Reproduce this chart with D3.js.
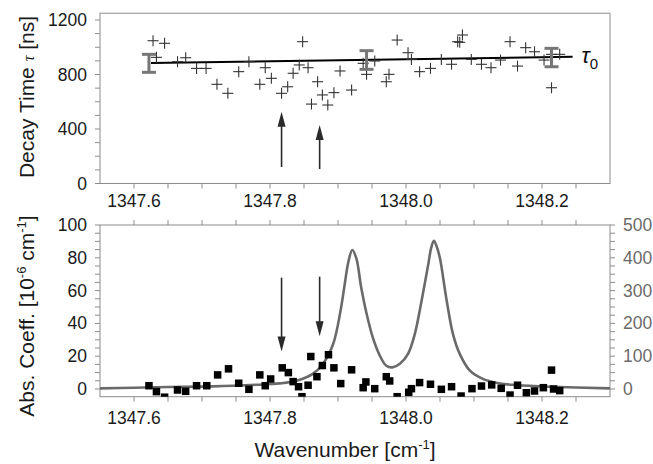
<!DOCTYPE html>
<html>
<head>
<meta charset="utf-8">
<script src="https://cdn.jsdelivr.net/npm/d3@7"></script>
<style>
  html, body { margin: 0; padding: 0; background: #fff; }
  svg text { font-family: "Liberation Sans", Arial, sans-serif; }
</style>
</head>
<body>
<svg id="chart" width="653" height="464"></svg>
<script>
// Ring-down decay times (upper panel)
const tauWn = [1347.628, 1347.645, 1347.633, 1347.664, 1347.676, 1347.692, 1347.706, 1347.722, 1347.738, 1347.754,
  1347.769, 1347.785, 1347.793, 1347.802, 1347.817, 1347.826, 1347.834, 1347.843, 1347.856, 1347.848,
  1347.870, 1347.861, 1347.877, 1347.885, 1347.894, 1347.903, 1347.920, 1347.937, 1347.942, 1347.954,
  1347.971, 1347.975, 1347.987, 1348.003, 1348.008, 1348.020, 1348.036, 1348.052, 1348.067, 1348.076,
  1348.083, 1348.079, 1348.096, 1348.111, 1348.125, 1348.139, 1348.153, 1348.164, 1348.176, 1348.189,
  1348.203, 1348.214, 1348.226, 1348.214];
const tauNs = [1048, 1029, 926, 894, 923, 845, 845, 728, 662, 821,
  894, 728, 850, 772, 662, 710, 809, 870, 850, 1041,
  747, 583, 650, 576, 667, 826, 686, 882, 801, 899,
  747, 801, 1053, 960, 911, 821, 845, 911, 875, 1041,
  1090, 1036, 911, 875, 850, 906, 1041, 862, 997, 967,
  906, 948, 948, 703];

// Empty-cavity decay time tau_0 and its error bars
const tau0Wn = [1347.625, 1348.245];
const tau0Ns = [885, 930];
const errWn = [1347.622, 1347.942, 1348.214];
const errLo = [816, 838, 857];
const errHi = [948, 975, 992];

// Absorption coefficient (lower panel, left axis)
const absWn = [1347.622, 1347.633, 1347.645, 1347.664, 1347.676, 1347.692, 1347.707, 1347.723, 1347.739, 1347.754,
  1347.769, 1347.785, 1347.793, 1347.801, 1347.818, 1347.827, 1347.834, 1347.842, 1347.847, 1347.856,
  1347.860, 1347.869, 1347.877, 1347.886, 1347.894, 1347.904, 1347.920, 1347.937, 1347.941, 1347.954,
  1347.971, 1347.976, 1347.987, 1348.004, 1348.008, 1348.020, 1348.036, 1348.052, 1348.067, 1348.081,
  1348.097, 1348.111, 1348.126, 1348.140, 1348.153, 1348.164, 1348.177, 1348.189, 1348.202, 1348.214,
  1348.217, 1348.226];
const absVal = [2.0, -1.6, -5.0, -0.6, -1.4, 2.0, 2.0, 8.6, 12.3, 3.5,
  -0.2, 8.6, 2.0, 6.1, 12.9, 10.0, 4.5, 1.4, -4.7, 2.3,
  19.8, 7.5, 14.3, 20.9, 12.9, 3.3, 11.7, 0.8, 4.3, 0.2,
  7.5, 4.9, -4.7, -2.0, 0.2, 3.9, 2.9, -0.2, 1.4, -4.3,
  0.2, 1.8, 2.5, 0.4, -3.7, 2.3, -2.3, -1.2, 0.8, 11.5,
  0.0, -1.0];

// Reference spectrum (lower panel, right axis)
const specWn = [1347.550, 1347.600, 1347.650, 1347.716, 1347.780, 1347.814, 1347.839, 1347.863, 1347.878, 1347.893,
  1347.903, 1347.910, 1347.915, 1347.921, 1347.927, 1347.934, 1347.942, 1347.951, 1347.961, 1347.971,
  1347.980, 1347.991, 1348.003, 1348.013, 1348.023, 1348.033, 1348.037, 1348.041, 1348.045, 1348.050,
  1348.059, 1348.069, 1348.079, 1348.094, 1348.113, 1348.138, 1348.162, 1348.211, 1348.300];
const specVal = [2, 4, 6, 8, 13, 17, 25, 46, 77, 138,
  230, 321, 385, 424, 398, 311, 230, 158, 104, 71,
  66, 77, 107, 168, 270, 383, 430, 452, 435, 398,
  280, 168, 107, 56, 31, 17, 12, 7, 2];

// Marked transitions
const markWn = [1347.817, 1347.873];
const markTopTip = [527, 429], markTopBase = [121, 106];
const markBotTip = [22.9, 32.1], markBotBase = [67.9, 68.5];

// Axis ticks
const xMajor = [1347.6, 1347.8, 1348.0, 1348.2];
const xMajorLabels = ["1347.6", "1347.8", "1348.0", "1348.2"];
const tauTicks = [0, 400, 800, 1200];
const absTicks = [0, 20, 40, 60, 80, 100];
const specTicks = [0, 100, 200, 300, 400, 500];

const svg = d3.select("#chart");
const frameColor = "#8c8c8c";
const tickLen = 5;
const tickFont = 17.5;
const titleFont = 21;
const serif = "'Liberation Serif', 'DejaVu Serif', serif";

const x = d3.scaleLinear().domain([1347.55, 1348.30]).range([100, 610]);
const yTau = d3.scaleLinear().domain([0, 1250]).range([183.5, 13.2]);
const yAbs = d3.scaleLinear().domain([-4.7, 100]).range([396.7, 225]);
const ySpec = d3.scaleLinear().domain([-23.5, 500]).range([396.7, 225]);

const xMinor = d3.range(0, 16).map(i => +(1347.55 + i * 0.05).toFixed(2)).filter(v => v > 1347.55 && v < 1348.30);

function frame(yScale) {
  const [y0, y1] = yScale.range();
  svg.append("rect")
    .attr("x", x.range()[0]).attr("y", y1)
    .attr("width", x.range()[1] - x.range()[0]).attr("height", y0 - y1)
    .attr("fill", "none").attr("stroke", frameColor).attr("stroke-width", 1);
}

function xTicks(yPos, dir) {
  svg.append("g").selectAll("line").data(xMinor).join("line")
    .attr("x1", d => x(d)).attr("x2", d => x(d))
    .attr("y1", yPos).attr("y2", yPos + dir * tickLen)
    .attr("stroke", frameColor).attr("stroke-width", 1);
}

function yTicks(scale, major, minorStep, xPos, dir, labelColor, anchor) {
  const [lo, hi] = scale.domain();
  const minor = d3.range(Math.ceil(lo / minorStep) * minorStep, hi + 1e-9, minorStep);
  svg.append("g").selectAll("line").data(minor).join("line")
    .attr("x1", xPos).attr("x2", xPos + dir * tickLen)
    .attr("y1", d => scale(d)).attr("y2", d => scale(d))
    .attr("stroke", frameColor).attr("stroke-width", 1);
  svg.append("g").selectAll("text").data(major).join("text")
    .attr("x", xPos + dir * 13).attr("y", d => scale(d) + 6)
    .attr("text-anchor", anchor)
    .attr("font-size", tickFont).attr("fill", labelColor)
    .text(d => d);
}

// ---------- Upper panel ----------
frame(yTau);
xTicks(yTau.range()[0], 1);
yTicks(yTau, tauTicks, 100, 100, -1, "#1a1a1a", "end");
svg.append("g").selectAll("text").data(xMajor).join("text")
  .attr("x", d => x(d)).attr("y", 207)
  .attr("text-anchor", "middle").attr("font-size", tickFont).attr("fill", "#1a1a1a")
  .text((d, i) => xMajorLabels[i]);

// tau_0 fit line
svg.append("line")
  .attr("x1", x(tau0Wn[0])).attr("y1", yTau(tau0Ns[0]))
  .attr("x2", x(tau0Wn[1])).attr("y2", yTau(tau0Ns[1]))
  .attr("stroke", "#000").attr("stroke-width", 2);

// decay-time points as crosses
const cross = 5.5;
const gTau = svg.append("g").attr("stroke", "#333").attr("stroke-width", 1.1);
tauWn.forEach((w, i) => {
  const cx = x(w), cy = yTau(tauNs[i]);
  gTau.append("line").attr("x1", cx - cross).attr("x2", cx + cross).attr("y1", cy).attr("y2", cy);
  gTau.append("line").attr("x1", cx).attr("x2", cx).attr("y1", cy - cross).attr("y2", cy + cross);
});

// error bars on tau_0
const gErr = svg.append("g").attr("stroke", "#767676").attr("stroke-width", 3);
errWn.forEach((w, i) => {
  const cx = x(w);
  gErr.append("line").attr("x1", cx).attr("x2", cx).attr("y1", yTau(errLo[i])).attr("y2", yTau(errHi[i]));
  [errLo[i], errHi[i]].forEach(v => {
    gErr.append("line").attr("x1", cx - 7).attr("x2", cx + 7).attr("y1", yTau(v)).attr("y2", yTau(v));
  });
});

const tauLabel = svg.append("text")
  .attr("x", x(tau0Wn[1]) + 9).attr("y", yTau(tau0Ns[1]) + 6)
  .attr("font-size", 22).attr("fill", "#111")
  .attr("font-family", serif);
tauLabel.append("tspan").attr("font-style", "italic").text("τ");
tauLabel.append("tspan").attr("font-size", 15).attr("dy", 6)
  .attr("font-family", "'Liberation Sans', Arial, sans-serif").text("0");

// ---------- Lower panel ----------
frame(yAbs);
xTicks(yAbs.range()[1], -1);
xTicks(yAbs.range()[0], 1);
yTicks(yAbs, absTicks, 5, 100, -1, "#1a1a1a", "end");
yTicks(ySpec, specTicks, 25, 610, 1, "#6b6b6b", "start");
svg.append("g").selectAll("text").data(xMajor).join("text")
  .attr("x", d => x(d)).attr("y", 424)
  .attr("text-anchor", "middle").attr("font-size", tickFont).attr("fill", "#1a1a1a")
  .text((d, i) => xMajorLabels[i]);

// clip region for the lower plot
svg.append("clipPath").attr("id", "clipBot").append("rect")
  .attr("x", 100).attr("y", 225).attr("width", 510).attr("height", 171.7);

const spec = specWn.map((w, i) => [w, specVal[i]]);
svg.append("path")
  .datum(spec)
  .attr("clip-path", "url(#clipBot)")
  .attr("fill", "none").attr("stroke", "#6a6a6a").attr("stroke-width", 2.6)
  .attr("d", d3.line().x(d => x(d[0])).y(d => ySpec(d[1])).curve(d3.curveCatmullRom.alpha(0.5)));

const sq = 7.5;
svg.append("g").attr("clip-path", "url(#clipBot)")
  .selectAll("rect").data(absWn).join("rect")
  .attr("x", d => x(d) - sq / 2).attr("y", (d, i) => yAbs(absVal[i]) - sq / 2)
  .attr("width", sq).attr("height", sq).attr("fill", "#000");

// ---------- Arrows marking the transitions ----------
function arrow(xw, yFrom, yTo) {
  const dir = Math.sign(yTo - yFrom);
  const head = 15, half = 4;
  svg.append("line").attr("x1", xw).attr("x2", xw).attr("y1", yFrom).attr("y2", yTo - dir * head + dir * 2)
    .attr("stroke", "#2a2a2a").attr("stroke-width", 1.6);
  svg.append("path")
    .attr("d", `M${xw},${yTo} L${xw - half},${yTo - dir * head} L${xw + half},${yTo - dir * head} Z`)
    .attr("fill", "#2a2a2a");
}
markWn.forEach((w, i) => {
  arrow(x(w), yTau(markTopBase[i]), yTau(markTopTip[i]));
  arrow(x(w), yAbs(markBotBase[i]), yAbs(markBotTip[i]));
});

// ---------- Axis titles ----------
const tauTitle = svg.append("text")
  .attr("transform", `translate(34,97) rotate(-90)`)
  .attr("text-anchor", "middle").attr("font-size", titleFont).attr("fill", "#1a1a1a");
tauTitle.append("tspan").text("Decay Time ");
tauTitle.append("tspan").attr("font-family", serif).attr("font-style", "italic")
  .attr("font-size", 16).text("τ");
tauTitle.append("tspan").text(" [ns]");

const absTitle = svg.append("text")
  .attr("transform", `translate(34,316) rotate(-90)`)
  .attr("text-anchor", "middle").attr("font-size", titleFont).attr("fill", "#1a1a1a");
absTitle.append("tspan").text("Abs. Coeff. [10");
absTitle.append("tspan").attr("font-size", 13).attr("dy", -8).text("-6");
absTitle.append("tspan").attr("dy", 8).text(" cm");
absTitle.append("tspan").attr("font-size", 13).attr("dy", -8).text("-1");
absTitle.append("tspan").attr("dy", 8).text("]");

const xTitle = svg.append("text")
  .attr("x", 345).attr("y", 457)
  .attr("text-anchor", "middle").attr("font-size", titleFont).attr("fill", "#1a1a1a");
xTitle.append("tspan").text("Wavenumber [cm");
xTitle.append("tspan").attr("font-size", 13).attr("dy", -8).text("-1");
xTitle.append("tspan").attr("dy", 8).text("]");
</script>
</body>
</html>
